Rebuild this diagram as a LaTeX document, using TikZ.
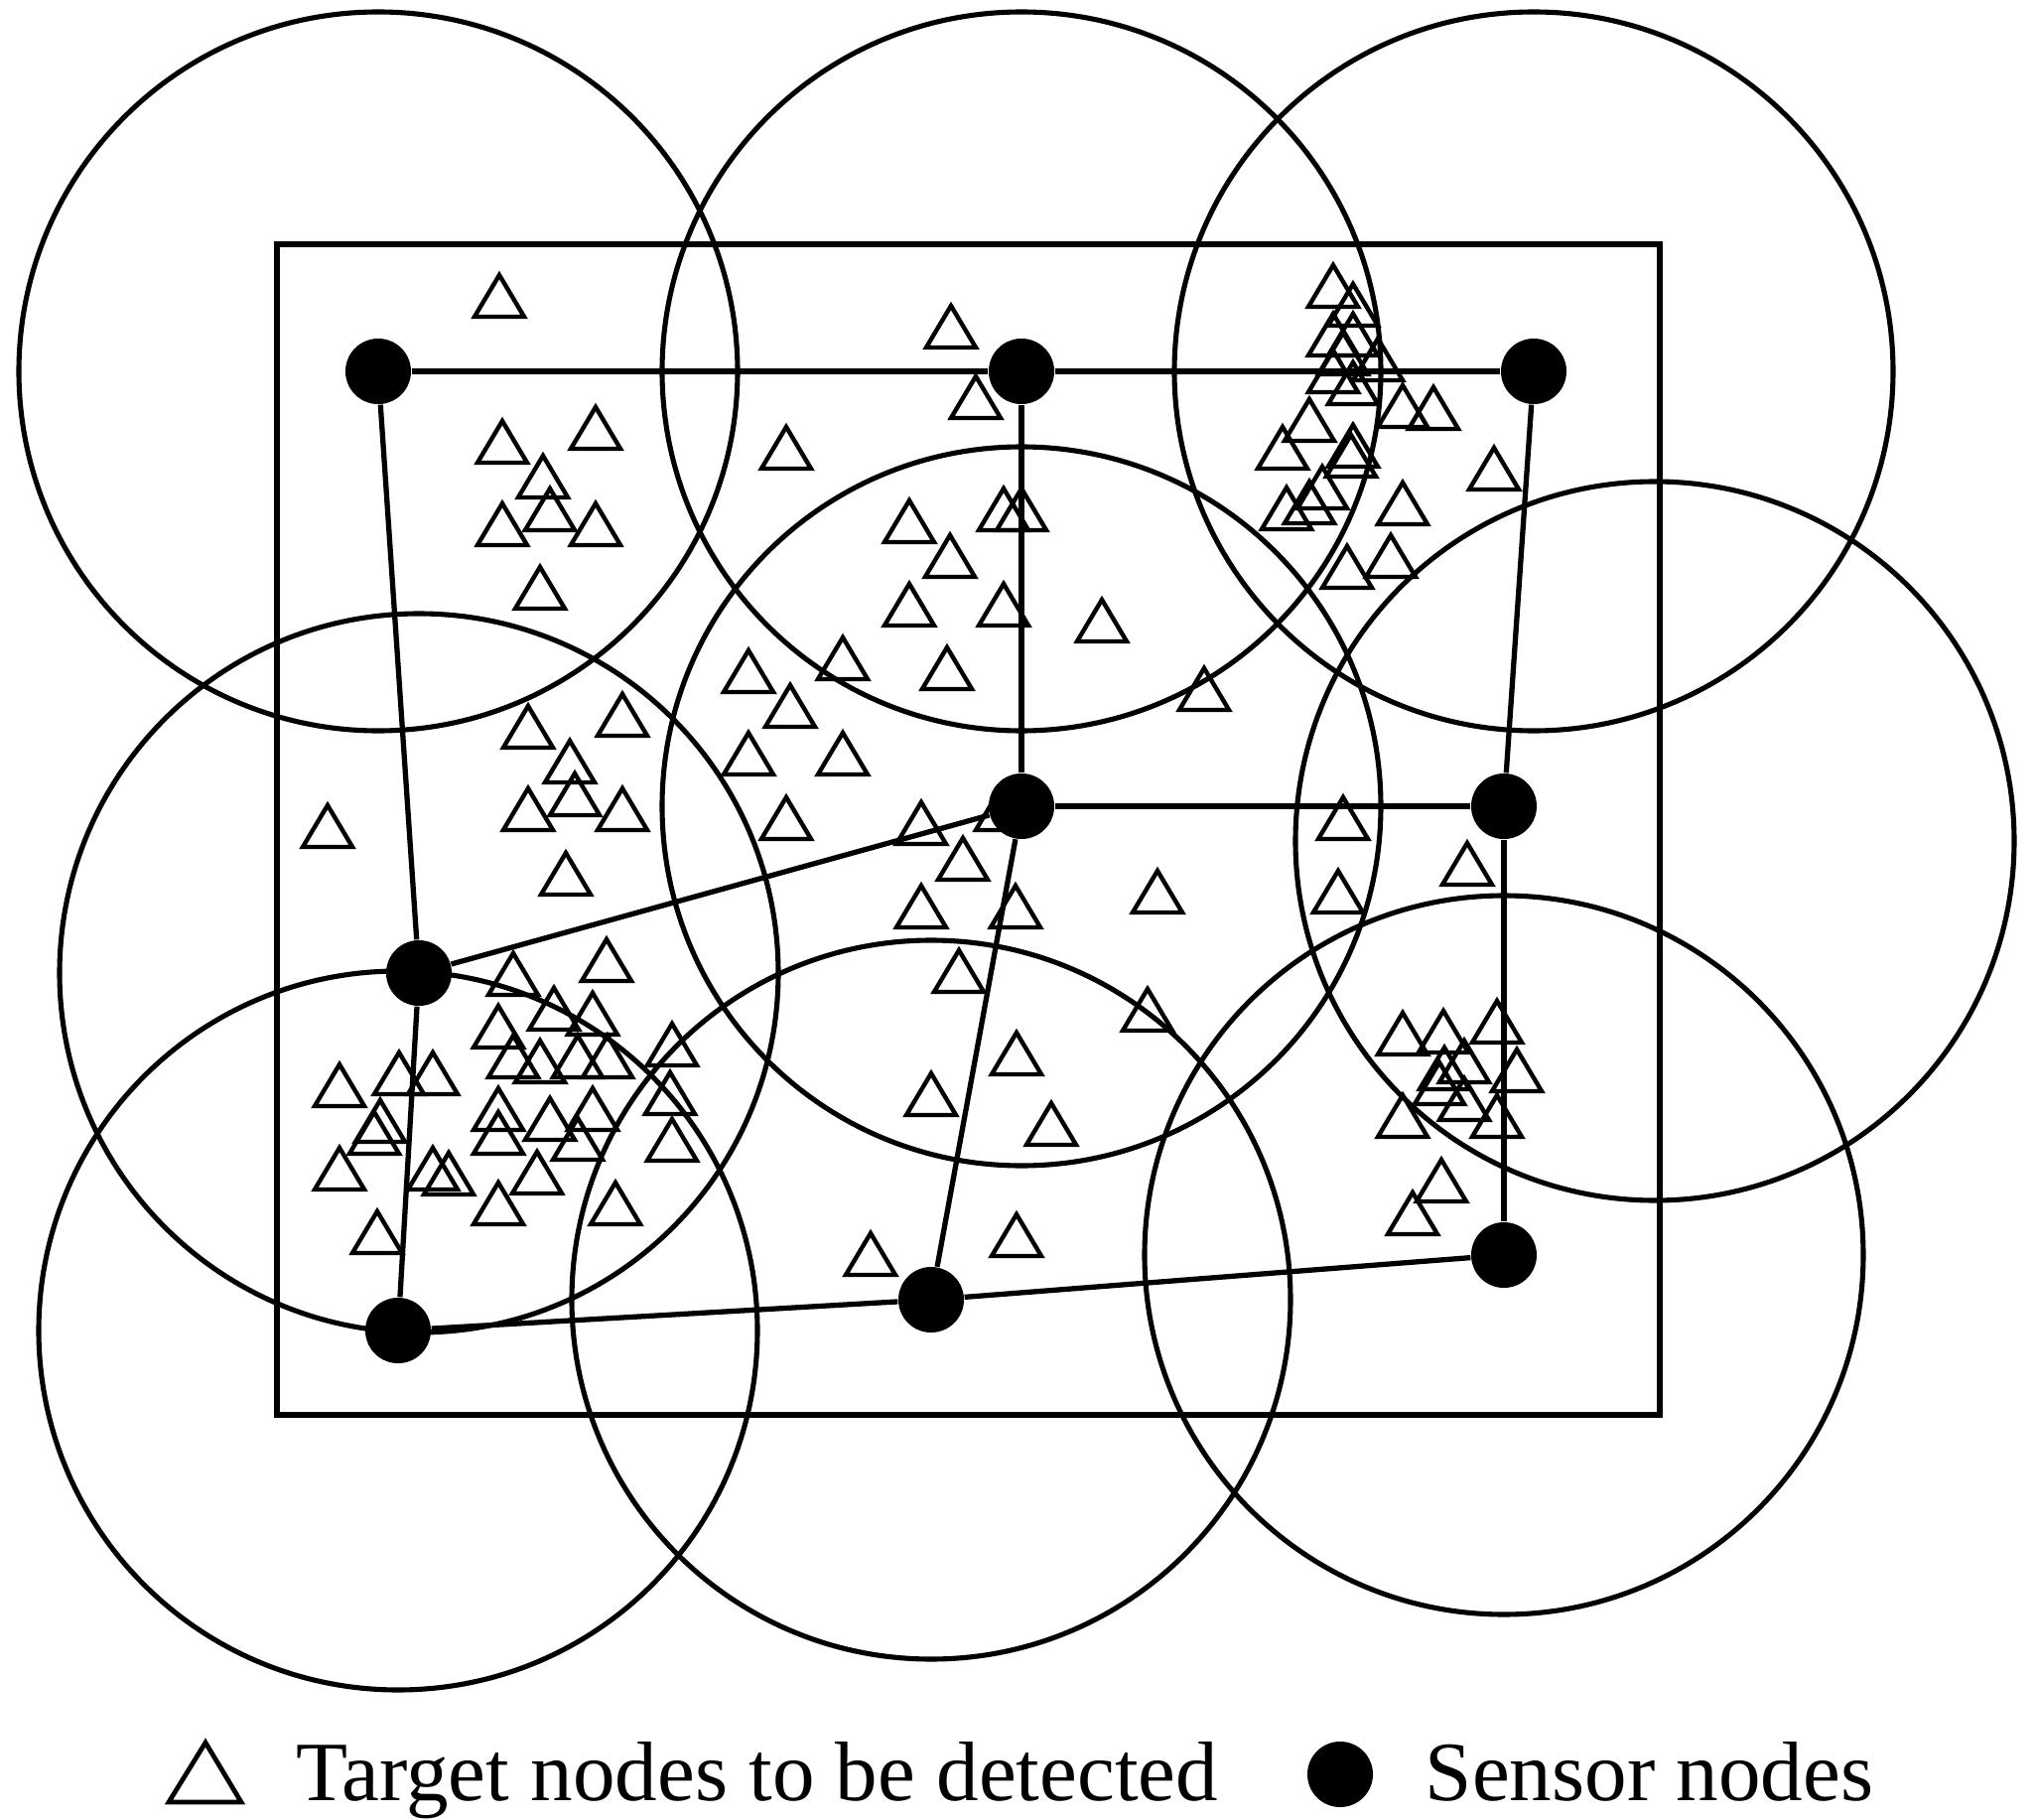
\documentclass[tikz,border=0pt]{standalone}
\usepackage{fontspec}
\setmainfont{Liberation Serif}
\begin{document}
\begin{tikzpicture}[x=0.01cm,y=-0.01cm,
  sensnode/.style={circle,fill=black,draw=none,minimum size=0.66cm,inner sep=0pt},
  linkline/.style={line width=1.5pt},
  coverring/.style={line width=1.45pt},
  tgtmark/.style={line width=1.25pt,line join=miter},
  areaframe/.style={line width=1.5pt},
  legendtext/.style={anchor=base west,inner sep=0pt,font=\fontsize{24.2}{29}\selectfont}]
\useasboundingbox (0,0) rectangle (2053,1833);

% sensor positions
\coordinate (P1) at (381,374);
\coordinate (P2) at (1029,374);
\coordinate (P3) at (1545,374);
\coordinate (P4) at (1029,812);
\coordinate (P5) at (1515,812);
\coordinate (P6) at (422,980);
\coordinate (P7) at (401,1340);
\coordinate (P8) at (938,1309);
\coordinate (P9) at (1515,1264);
\coordinate (PR) at (1667,847);

% coverage circles
\foreach \c in {P1,P2,P3,P4,P6,P7,P8,P9,PR}
  \draw[coverring] (\c) circle[radius=362];

% monitored area
\draw[areaframe] (279,246) rectangle (1672,1425);

% target nodes
\foreach \x/\y in {
 503/319,506/466,600/452,547/501,554/534,506/549,600/549,544/613,
 532/753,627/741,574/788,579/821,532/836,627/836,330/853,570/901,
 517/1002,611/988,558/1037,597/1042,502/1055,517/1085,544/1090,582/1085,612/1085,
 677/1073,675/1122,677/1169,342/1114,402/1102,436/1102,383/1150,377/1162,
 342/1198,436/1198,452/1203,380/1262,502/1138,502/1162,554/1148,597/1138,
 582/1168,541/1202,502/1233,620/1233,
 958/350,983/421,792/472,916/546,1011/534,1029/534,957/581,916/630,1011/630,
 1110/646,849/684,954/694,754/697,796/732,754/780,849/780,1213/715,
 792/845,928/850,1008/836,970/886,928/934,1023/934,1166/919,966/999,
 1156/1038,1024/1082,938/1123,1059/1153,1024/1265,877/1284,
 1343/309,1363/328,1343/358,1363/358,1353/377,1388/383,1343/395,1363/407,
 1413/430,1444/432,1319/444,1292/472,1363/470,1361/480,1332/512,1319/527,
 1296/533,1413/528,1357/592,1401/581,1505/493,
 1353/845,1348/919,1478/891,
 1413/1062,1454/1060,1508/1050,1528/1099,1475/1090,1455/1097,1450/1112,
 1475/1128,1413/1145,1508/1145,1452/1210,1423/1243}
  \draw[tgtmark] (\x-25,\y) -- (\x,\y-42) -- (\x+25,\y) -- cycle;

% sensor nodes
\node[sensnode] (S1) at (P1) {};
\node[sensnode] (S2) at (P2) {};
\node[sensnode] (S3) at (P3) {};
\node[sensnode] (S4) at (P4) {};
\node[sensnode] (S5) at (P5) {};
\node[sensnode] (S6) at (P6) {};
\node[sensnode] (S7) at (P7) {};
\node[sensnode] (S8) at (P8) {};
\node[sensnode] (S9) at (P9) {};

% links
\draw[linkline] (S1) -- (S2);
\draw[linkline] (S2) -- (S3);
\draw[linkline] (S1) -- (S6);
\draw[linkline] (S6) -- (S7);
\draw[linkline] (S6) -- (S4);
\draw[linkline] (S2) -- (S4);
\draw[linkline] (S4) -- (S5);
\draw[linkline] (S3) -- (S5);
\draw[linkline] (S5) -- (S9);
\draw[linkline] (S4) -- (S8);
\draw[linkline] (S7) -- (S8);
\draw[linkline] (S8) -- (S9);

% legend
\draw[tgtmark,line width=1.35pt] (170,1815) -- (207,1755) -- (243,1815) -- cycle;
\node[legendtext] (LT) at (298,1813) {Target nodes to be detected};
\node[sensnode] (LS) at (1350,1787) {};
\node[legendtext] (LN) at (1435,1813) {Sensor nodes};
\end{tikzpicture}
\end{document}
